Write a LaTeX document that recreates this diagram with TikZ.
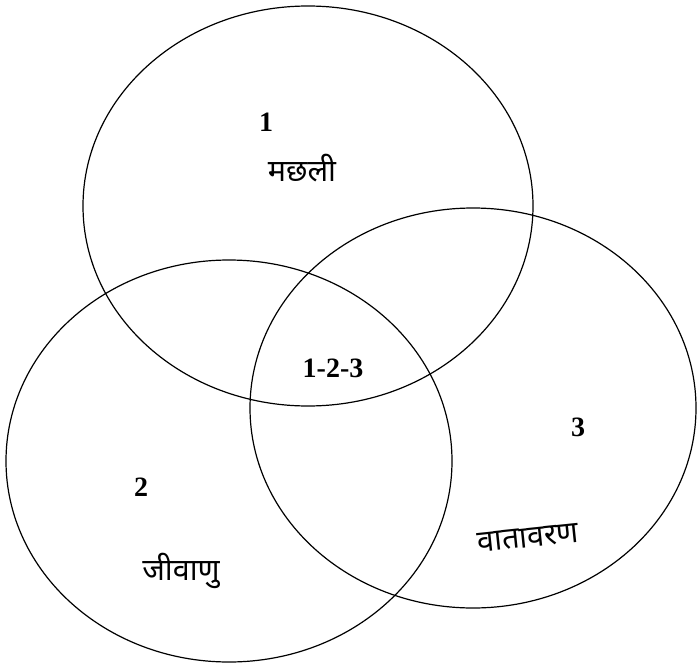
\documentclass[tikz,border=0pt]{standalone}
\usepackage{fontspec}
\setmainfont{Liberation Serif}
\newfontfamily\deva[Script=Devanagari]{Noto Sans}
\begin{document}
\begin{tikzpicture}[x=1pt,y=1pt,
  ring/.style={draw=black,line width=1.2pt},
  num/.style={font=\fontsize{28}{30}\selectfont\bfseries,inner sep=0pt},
  word/.style={font=\deva\fontsize{30.5}{34}\selectfont,inner sep=0pt}]
\useasboundingbox (0,0) rectangle (700,-663);
\coordinate (c1) at (308,-206);
\coordinate (c2) at (229,-461);
\coordinate (c3) at (473,-408);
\draw[ring] (c1) ellipse [x radius=225, y radius=200];
\draw[ring] (c2) ellipse [x radius=223, y radius=201];
\draw[ring] (c3) ellipse [x radius=223, y radius=200];
\node[num] (n1) at (266,-122) {1};
\node[word] (w1) at (302,-168) {मछली};
\node[num] (n123) at (333,-368) {1-2-3};
\node[num] (n2) at (141,-487) {2};
\node[word] (w2) at (181,-571) {जीवाणु};
\node[num] (n3) at (578,-427) {3};
\node[word,rotate=6] (w3) at (528,-538) {वातावरण};
\end{tikzpicture}
\end{document}
